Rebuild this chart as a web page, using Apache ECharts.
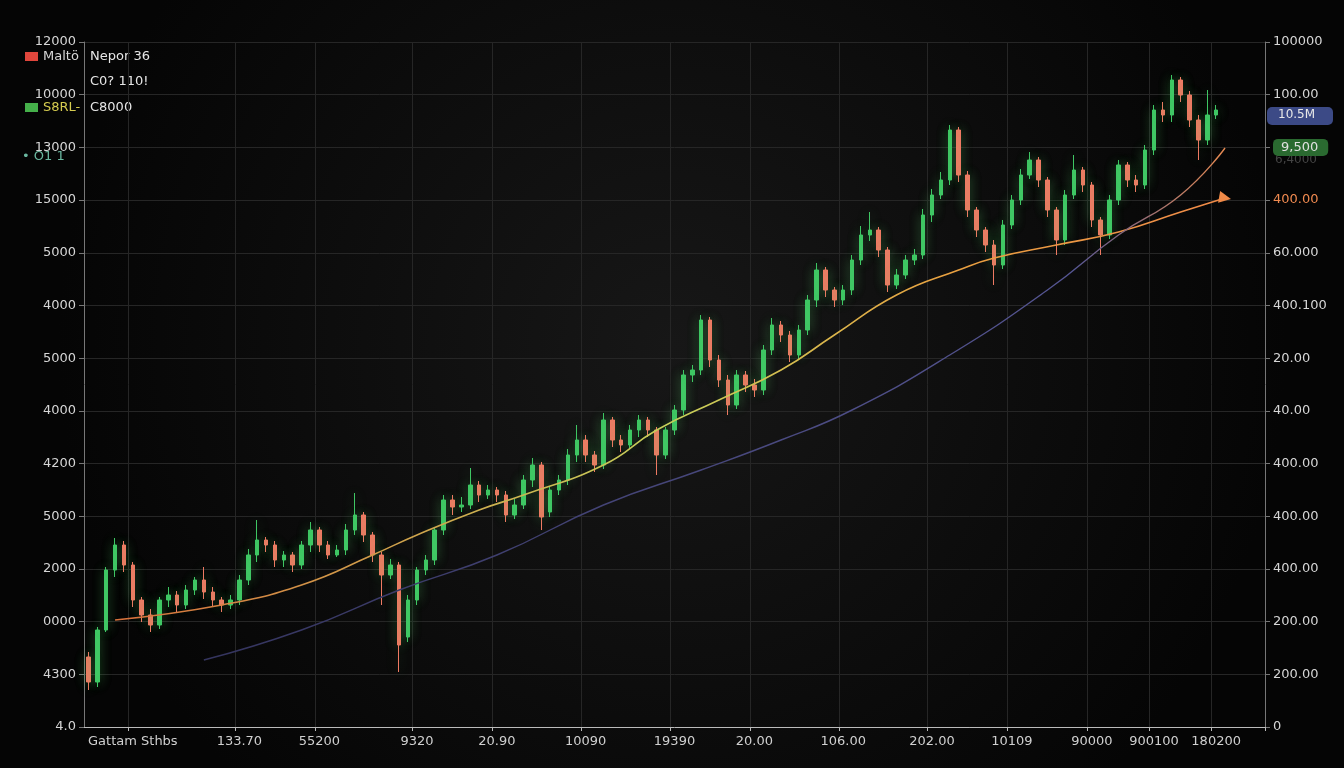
<!DOCTYPE html>
<html><head><meta charset="utf-8">
<script src="https://cdn.jsdelivr.net/npm/echarts@6/dist/echarts.min.js"></script>
<style>html,body{margin:0;padding:0;background:#0a0a0a;}#c{width:1344px;height:768px;}</style>
</head><body><div id="c"></div>
<script>
// OHLC rows: [open, close, low, high]
const candles = [
[70,45,37,75],[45,97,40,100],[97,157,95,160],[157,182,150,189],[182,162,155,186],[162,127,120,165],[127,112,105,130],[112,102,95,118],
[102,127,98,130],[127,132,120,140],[132,122,115,136],[122,137,118,142],[137,147,132,150],[147,135,128,160],[135,127,120,140],[127,122,115,130],
[122,127,118,132],[127,147,122,152],[147,172,142,178],[172,187,165,207],[187,182,175,190],[182,167,160,186],[167,172,160,176],[172,162,155,175],
[162,182,158,186],[182,197,175,205],[197,182,175,200],[182,172,168,186],[172,177,170,182],[177,197,172,203],[197,212,192,234],[212,192,185,215],
[192,172,165,195],[172,152,122,175],[152,162,148,168],[162,82,55,165],[90,127,85,132],[127,157,122,160],[157,167,152,172],[167,197,162,200],
[197,227,192,232],[227,220,212,232],[220,222,215,230],[222,242,218,259],[242,232,225,246],[232,237,228,242],[237,232,225,240],[232,212,205,236],
[212,222,208,228],[222,247,218,252],[247,262,240,269],[262,210,197,265],[215,237,210,240],[237,247,232,252],[247,272,242,278],[272,287,265,302],
[287,272,265,292],[272,262,255,276],[262,307,258,314],[307,287,280,310],[287,282,275,292],[282,297,278,302],[297,307,290,312],[307,297,290,310],
[297,272,252,300],[272,297,268,300],[297,317,292,322],[317,352,312,357],[352,357,345,362],[357,407,352,412],[407,367,360,410],[367,347,340,372],
[347,322,312,352],[322,352,318,357],[352,342,335,356],[342,337,330,348],[337,377,332,382],[377,402,372,409],[402,392,385,406],[392,372,365,396],
[372,397,368,402],[397,427,392,432],[427,457,420,464],[457,437,430,460],[437,427,420,440],[427,437,422,442],[437,467,432,472],[467,492,462,501],
[492,497,486,515],[497,477,470,500],[477,442,435,480],[442,452,438,458],[452,467,448,472],[467,472,462,478],[472,512,468,518],[512,532,505,538],
[532,547,528,555],[547,597,542,602],[597,552,545,600],[552,517,510,556],[517,497,490,520],[497,482,475,500],[482,462,442,487],[462,502,458,507],
[502,527,498,532],[527,552,522,558],[552,567,548,575],[567,547,540,570],[547,517,510,550],[517,487,472,520],[487,532,482,537],[532,557,528,572],
[557,542,535,560],[542,507,500,545],[507,492,472,510],[492,527,488,532],[527,562,522,567],[562,547,540,565],[547,542,535,552],[542,577,538,582],
[577,617,572,622],[617,612,605,625],[612,647,605,652],[647,632,625,650],[632,607,600,636],[607,587,567,612],[587,612,582,637],[612,617,608,622]
];
const categoryCount = 133;
const maFast = [[3,107],[15,122],[24,142],[32,172],[37,192],[44,217],[49,232],[58,262],[64,297],[71,327],[78,357],[84,392],[91,432],[98,457],[102,469],[109,482],[116,495],[123,515],[128,529]];
const maSlow = [[13,67],[24,97],[35,137],[46,172],[58,222],[69,257],[78,287],[86,317],[97,372],[108,437],[116,492],[123,532],[128,579]];
const xTickIdx = [5,17,26,37,46,56,66,75,85,95,104,113,120,127];
const xTickLabels = ['Gattam Sthbs','133.70','55200','9320','20.90','10090','19390','20.00','106.00','202.00','10109','90000','900100','180200'];
const leftLabels = ['12000','10000','13000','15000','5000','4000','5000','4000','4200','5000','2000','0000','4300','4.0'];
const rightLabels = ['100000','100.00','9,500','400.00','60.000','400.100','20.00','40.00','400.00','400.00','400.00','200.00','200.00','0'];

const cats = Array.from({length: categoryCount}, (_, i) => String(i));
const step = 685/13;
const rowIdx = v => 13 - Math.round(v/step);
const chart = echarts.init(document.getElementById('c'));
chart.setOption({
  backgroundColor: {type:'radial',x:0.5,y:0.45,r:0.8,colorStops:[{offset:0,color:'#171717'},{offset:1,color:'#050505'}]},
  animation:false,
  grid:{left:84,right:79,top:42,bottom:41},
  xAxis:{type:'category',data:cats,boundaryGap:true,
    axisLine:{lineStyle:{color:'#bbbbbb'}},
    axisTick:{show:true,interval:(i)=>xTickIdx.includes(i),lineStyle:{color:'#bbb'},length:4},
    axisLabel:{interval:(i)=>xTickIdx.includes(i),color:'#d0d0d0',fontSize:13,fontFamily:'DejaVu Sans',margin:8,
      formatter:(v,i)=>xTickLabels[xTickIdx.indexOf(Number(v))]||''},
    splitLine:{show:true,interval:(i)=>xTickIdx.includes(i),lineStyle:{color:'#262626'}}},
  yAxis:[
    {type:'value',min:0,max:685,interval:step,position:'left',
     axisLine:{show:true,lineStyle:{color:'#777'}},axisTick:{show:true,lineStyle:{color:'#777'}},
     axisLabel:{color:'#d6d6d6',fontSize:13,fontFamily:'DejaVu Sans',formatter:v=>leftLabels[rowIdx(v)]},
     splitLine:{lineStyle:{color:'#262626'}}},
    {type:'value',min:0,max:685,interval:step,position:'right',
     axisLine:{show:true,lineStyle:{color:'#777'}},axisTick:{show:true,lineStyle:{color:'#777'}},
     axisLabel:{color:'#d6d6d6',fontSize:13,fontFamily:'DejaVu Sans',margin:8,
       formatter:v=>{const i=rowIdx(v);if(i===2)return '{g|'+rightLabels[i]+'}';if(i===3)return '{o|'+rightLabels[i]+'}';return rightLabels[i];},
       rich:{g:{backgroundColor:'#2a6a30',color:'#e0e0e0',padding:[2,10,2,8],borderRadius:5,fontSize:13},o:{color:'#f08a50',fontSize:13}}},
     splitLine:{show:false}}
  ],
  series:[
    {type:'candlestick',data:candles,barWidth:4,
     itemStyle:{color:'#3fc764',color0:'#ee7a63',borderColor:'#3fc764',borderColor0:'#ee7a63',shadowBlur:12,shadowColor:'rgba(90,220,110,0.35)'}},
    {type:'line',data:maFast,smooth:true,symbol:'none',
     lineStyle:{width:1.6,color:{type:'linear',x:0,y:0,x2:1,y2:0,colorStops:[{offset:0,color:'#d8703c'},{offset:0.5,color:'#c6d05a'},{offset:0.75,color:'#e8a040'},{offset:1,color:'#f08a48'}]}},
     markPoint:{symbol:'triangle',symbolSize:12,symbolRotate:-100,data:[{coord:[128,529]}],itemStyle:{color:'#f08a48'},label:{show:false}}},
    {type:'line',data:maSlow,smooth:true,symbol:'none',
     lineStyle:{width:1.4,color:{type:'linear',x:0,y:0,x2:1,y2:0,colorStops:[{offset:0,color:'#34345e'},{offset:0.85,color:'#555592'},{offset:1,color:'#e88a50'}]}}}
  ],
  graphic:[
    {type:'rect',left:25,top:52,shape:{width:13,height:9},style:{fill:'#e0463c'}},
    {type:'text',left:43,top:50,style:{text:'Maltö',fill:'#d8d8d8',font:'13px DejaVu Sans'}},
    {type:'text',left:90,top:50,style:{text:'Nepor 36',fill:'#e6e6e6',font:'13px DejaVu Sans'}},
    {type:'text',left:90,top:75,style:{text:'C0? 110!',fill:'#e6e6e6',font:'13px DejaVu Sans'}},
    {type:'rect',left:25,top:103,shape:{width:13,height:9},style:{fill:'#45b04a'}},
    {type:'text',left:43,top:101,style:{text:'S8RL-',fill:'#d6cc50',font:'13px DejaVu Sans'}},
    {type:'text',left:90,top:101,style:{text:'C8000',fill:'#e6e6e6',font:'13px DejaVu Sans'}},
    {type:'text',left:22,top:150,style:{text:'• O1 1',fill:'#6ab8a0',font:'13px DejaVu Sans'}},
    {type:'rect',left:1267,top:107,shape:{width:66,height:18,r:5},style:{fill:'#3c4a86'}},
    {type:'text',left:1278,top:109,style:{text:'10.5M',fill:'#e8e8e8',font:'12px DejaVu Sans'}},
    {type:'text',left:1275,top:154,style:{text:'6,4000',fill:'#444',font:'12px DejaVu Sans'}}
  ]
});
</script></body></html>
